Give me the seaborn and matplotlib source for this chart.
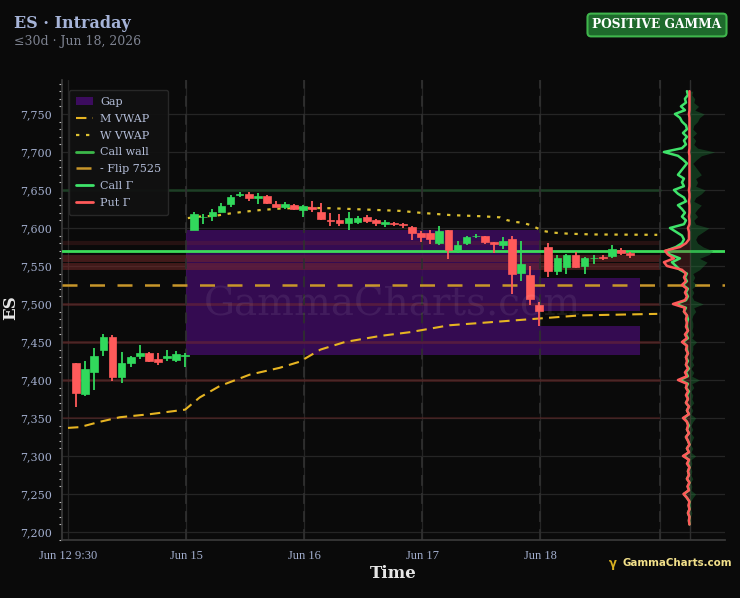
import numpy as np
import pandas as pd
import matplotlib
matplotlib.use("Agg")
import matplotlib.pyplot as plt
import seaborn as sns
from matplotlib.patches import Rectangle, Patch
from matplotlib.lines import Line2D
from matplotlib.ticker import MultipleLocator, FuncFormatter

# ---------------- data ----------------
day_labels = ["Jun 12 9:30", "Jun 15", "Jun 16", "Jun 17", "Jun 18"]
day_starts = [0, 13, 26, 39, 52]
session_end = 65.2

opens = [7422, 7382, 7411, 7439, 7457, 7404, 7422, 7431, 7436, 7428, 7429, 7426, 7432,
         7598, 7614, 7616, 7621, 7632, 7643, 7645, 7639, 7642, 7632, 7628, 7630.5, 7624,
         7628, 7621, 7610, 7610, 7607, 7608, 7614, 7610, 7605, 7606, 7605, 7601, 7594,
         7594, 7580, 7597, 7571, 7580, 7589, 7589, 7581, 7577, 7586, 7541, 7538, 7499,
         7575, 7543, 7549, 7565, 7550, 7560, 7562, 7563, 7571, 7567]
highs = [7423, 7425, 7442, 7460, 7459, 7437, 7432, 7446, 7437, 7436, 7440, 7438, 7436,
         7621, 7619, 7625, 7633, 7643, 7648, 7647, 7646, 7644, 7635, 7634, 7632, 7630,
         7636, 7633, 7620, 7618, 7621, 7616, 7617, 7612, 7611, 7608, 7607, 7603, 7596,
         7598, 7603, 7598, 7583, 7590, 7592, 7590, 7582, 7588, 7590, 7583, 7550, 7502,
         7580, 7564, 7566, 7568, 7562, 7565, 7564, 7578, 7574, 7568]
lows = [7365, 7379, 7387, 7432, 7399, 7396, 7417, 7427, 7424, 7420, 7425, 7424, 7417,
        7597, 7605, 7609, 7621, 7628, 7641, 7636, 7632, 7632, 7627, 7625, 7624, 7615,
        7621, 7611, 7603, 7603, 7597, 7605, 7606, 7602, 7601, 7602, 7600, 7584, 7581,
        7579, 7577, 7559, 7567, 7578, 7587, 7579, 7567, 7572, 7513, 7530, 7499, 7471,
        7535, 7538, 7540, 7548, 7539, 7553, 7558, 7560, 7565, 7561]
closes = [7383, 7414, 7431, 7457, 7404, 7423, 7430, 7436, 7425, 7424, 7431, 7434, 7433,
          7618, 7615, 7621, 7629, 7641, 7645, 7639, 7642, 7633, 7628, 7631, 7625, 7629,
          7625, 7612, 7609, 7606, 7613, 7613, 7609, 7606, 7608, 7605, 7603.5, 7594, 7588,
          7585, 7596, 7571, 7578, 7588, 7590, 7581, 7579, 7583, 7540, 7553, 7507, 7491,
          7543, 7560, 7564, 7549, 7560, 7561, 7560, 7572, 7567, 7565]

mvwap_x = [0, 1.3, 3.5, 5.7, 9, 12.9, 14.5, 16.7, 20, 23.3, 25.5, 27.8, 30.5, 34.4,
           37.7, 42, 47.6, 52, 56.4, 64.9]
mvwap_y = [7337, 7338, 7345, 7351, 7355, 7361, 7377, 7392, 7407, 7416, 7424, 7440,
           7450, 7458, 7463, 7472, 7477, 7481, 7485, 7487]
wvwap_x = [13.2, 14.5, 16.2, 17.8, 19.5, 21.1, 23.3, 25.6, 28.9, 33.3, 36.6, 38.8,
           42.1, 45.4, 47.6, 48.3, 49.2, 50, 50.9, 51.7, 52.4, 53.3, 55.1, 57.8, 64.9]
wvwap_y = [7613, 7615, 7616, 7619, 7621.5, 7623.5, 7625.5, 7626.5, 7626, 7624,
           7622.5, 7620, 7617, 7615.5, 7614, 7610.5, 7608, 7607, 7604, 7599.6, 7596,
           7594, 7592.5, 7591.5, 7591]

call_wall = 7570
flip_level = 7525
call_levels = [7650]
put_levels = [7580, 7560, 7550, 7500, 7450, 7400, 7350]
put_level_widths = [3, 5, 5, 2, 2, 2, 1.5]
put_level_alphas = [0.25, 0.5, 0.5, 0.45, 0.45, 0.45, 0.35]

gaps_x0 = [13, 52, 52]
gaps_x1 = [52, 63, 63]
gaps_lo = [7433, 7491, 7433]
gaps_hi = [7597, 7534, 7471]

strikes = list(range(7210, 7785, 5))
call_gamma = [0.5, 1, 0.5, 2, 0.5, 1, 0.5, 3, 6, 1, 2, 0.5, 3, 1, 2, 0.5, 2, 1, 6, 1,
              3, 0.5, 2, 4, 1, 3, 1, 3, 6, 1, 3, 1, 4, 2, 3, 1, 4, 2, 10, 2,
              4, 1, 4, 2, 4, 2, 3, 3, 7, 2, 4, 2, 3, 3, 2, 3, 6, 4, 14, 4,
              2, 4, 2, 7, 3, 5, 3, 10, 14, 18, 10, 20, 24, 14, 8, 6, 8, 14, 20, 6,
              4, 8, 5, 8, 12, 4, 6, 12, 16, 6, 8, 6, 12, 9, 6, 3, 7, 12, 26, 8,
              4, 6, 3, 7, 3, 4, 8, 10, 15, 5, 9, 4, 5, 2, 3]
put_gamma = [0.5, 1, 0.5, 2, 0.5, 1.5, 0.5, 3, 6.5, 1, 2.5, 0.5, 3, 1, 2, 0.5, 3, 1, 7, 1,
             3, 0.5, 2, 4, 1, 3, 2, 3, 7, 1, 3, 1, 4, 2, 4, 2, 4, 3, 12, 3,
             5, 2, 4, 3, 4, 2, 4, 3, 8, 3, 5, 2, 4, 3, 4, 3, 6, 5, 17, 5,
             3, 5, 3, 8, 4, 6, 4, 8, 23, 26, 16, 22, 25, 10, 4, 1, 1, 1, 2, 0.5,
             0.5, 1, 0.5, 0.5, 0.5, 1, 0.5, 0.5, 1, 0.5, 0.5, 0.5, 0.5, 0.5, 0.5, 0.5, 0.5, 0.5, 1, 0.5,
             0.5, 0.5, 0.5, 0.5, 0.5, 0.5, 0.5, 0.5, 1, 0.5, 0.5, 0.5, 0.5, 0.5, 0.5]

# ---------------- style ----------------
BG = "#0a0a0a"
GREEN = "#31d95c"
RED = "#ff5a5a"
GOLD = "#e6b422"
TICKC = "#a3afcf"
sns.set_theme(style="dark", rc={
    "figure.facecolor": BG, "axes.facecolor": BG,
    "axes.edgecolor": "#3a3a3a", "grid.color": "#262626",
    "xtick.color": TICKC, "ytick.color": TICKC,
    "axes.labelcolor": "#e6e6e6", "text.color": "#e6e6e6",
})
plt.rcParams["font.family"] = ["DejaVu Serif", "DejaVu Sans"]

fig = plt.figure(figsize=(7.4, 5.98), dpi=100)
ax = fig.add_axes([62 / 740, 58 / 598, 663 / 740, 460 / 598])
ax.set_facecolor(BG)

n = len(opens)
pos = np.arange(n) + 0.9

# gaps
for x0, x1, lo, hi in zip(gaps_x0, gaps_x1, gaps_lo, gaps_hi):
    ax.add_patch(Rectangle((x0, lo), x1 - x0, hi - lo, facecolor="#3c0c5e",
                           edgecolor="none", alpha=0.85, zorder=1))

# level bands
for lv, w, a in zip(put_levels, put_level_widths, put_level_alphas):
    ax.plot([-1, session_end], [lv, lv], color="#7a2a2a", lw=w, alpha=a,
            zorder=1.5, solid_capstyle="butt")
for lv in call_levels:
    ax.plot([-1, session_end], [lv, lv], color="#1d4a28", lw=2, alpha=0.7, zorder=1.5)

# day separators
for d in day_starts[1:] + [session_end]:
    ax.axvline(d, color="#2f2f2f", lw=1.3, ls=(0, (6, 4)), zorder=1.6)
ax.axvline(68.5, color="#2e2e2e", lw=0.9, zorder=1.2)

# watermark
fig.text(393 / 740, 1 - 305 / 598, "GammaCharts.com", fontsize=28, color="white",
         alpha=0.07, ha="center", va="center", zorder=2)

# VWAPs
sns.lineplot(x=mvwap_x, y=mvwap_y, ax=ax, color=GOLD, lw=1.5, estimator=None,
             zorder=3, sort=False)
ax.lines[-1].set_linestyle((0, (5, 3)))
sns.lineplot(x=wvwap_x, y=wvwap_y, ax=ax, color="#dcc032", lw=1.6, estimator=None,
             zorder=3, sort=False)
ax.lines[-1].set_linestyle((0, (1.5, 3)))

# horizontal key levels
ax.axhline(call_wall, color="#3ddc5a", lw=2, zorder=4)
ax.axhline(flip_level, color="#c8962a", lw=1.8, ls=(0, (6, 5)), zorder=4)

# candles
cols = [GREEN if c >= o else RED for o, c in zip(opens, closes)]
ax.vlines(pos, lows, highs, colors=cols, lw=1.3, zorder=5)
bottoms = np.minimum(opens, closes)
heights = np.maximum(np.abs(np.array(closes) - np.array(opens)), 0.8)
ax.bar(pos, heights, bottom=bottoms, width=0.85, color=cols, edgecolor=cols, lw=0.5, zorder=6)

# gamma profile
center = 68.5
pxu = 1 / 9.08
cg = np.array(call_gamma) * pxu
pg = np.array(put_gamma) * pxu
ax.fill_betweenx(strikes, center, center + cg * 0.95, color="#1f7a38", alpha=0.4,
                 lw=0, zorder=6)
ax.fill_betweenx(strikes, center - pg, center, color="#8a3030", alpha=0.3, lw=0, zorder=6)
prof = pd.DataFrame({"strike": strikes, "call": center - cg, "put": center - pg})
sns.lineplot(data=prof, x="call", y="strike", orient="y", ax=ax, color="#3fe36a",
             lw=1.8, estimator=None, sort=False, zorder=7)
sns.lineplot(data=prof, x="put", y="strike", orient="y", ax=ax, color=RED,
             lw=1.8, estimator=None, sort=False, zorder=8)

# axes
ax.set_xlim(-0.66, 72.36)
ax.set_ylim(7189.5, 7794.7)
ax.set_xticks(day_starts + [session_end, center])
ax.set_xticklabels(day_labels + ["", ""], fontsize=9,
                   family=["DejaVu Serif Condensed", "Liberation Serif", "DejaVu Serif"])
ax.yaxis.set_major_locator(MultipleLocator(50))
ax.yaxis.set_minor_locator(MultipleLocator(10))
ax.yaxis.set_major_formatter(FuncFormatter(lambda v, p: f"{v:,.0f}"))
ax.tick_params(axis="y", labelsize=8, length=4, width=0.8, colors=TICKC)
ax.tick_params(axis="y", which="minor", length=2, width=0.8, colors="#bbbbbb", left=True)
ax.tick_params(axis="x", labelsize=9, length=4, width=0.8, colors=TICKC, pad=3)
ax.grid(True, which="major", color="#252525", lw=0.9)
ax.set_axisbelow(True)
for s in ["top", "right"]:
    ax.spines[s].set_visible(False)
for s in ["left", "bottom"]:
    ax.spines[s].set_color("#3a3a3a")
ax.set_xlabel("Time", fontsize=12, fontweight="bold", color="#e6e6e6", labelpad=2)
ax.set_ylabel("")
fig.text(11 / 740, 1 - 308 / 598, "ES", fontsize=12, fontweight="bold", color="#e6e6e6",
         rotation=90, ha="center", va="center")

# legend
handles = [
    Patch(facecolor="#3c0c5e", edgecolor="none", label="Gap"),
    Line2D([], [], color=GOLD, lw=1.5, ls=(0, (5, 3)), label="M VWAP"),
    Line2D([], [], color="#dcc032", lw=1.6, ls=(0, (1.5, 3)), label="W VWAP"),
    Line2D([], [], color="#3cb84a", lw=2, label="Call wall"),
    Line2D([], [], color="#c8962a", lw=1.8, ls=(0, (6, 5)), label="- Flip 7525"),
    Line2D([], [], color="#3fe36a", lw=2, label="Call Γ"),
    Line2D([], [], color=RED, lw=2, label="Put Γ"),
]
leg = ax.legend(handles=handles, loc="upper left", bbox_to_anchor=(0.002, 0.99),
                fontsize=8, frameon=True, facecolor="#111111", edgecolor="#2a2a2a",
                labelcolor="#b3bdd8", labelspacing=0.62, handlelength=1.6,
                handletextpad=0.6, borderpad=0.6, framealpha=0.95)
leg.set_zorder(10)

# titles
fig.text(14 / 740, 1 - 24 / 598, "ES · Intraday", fontsize=11.5, fontweight="bold",
         color="#a6b4d8", va="center", ha="left")
fig.text(14 / 740, 1 - 41 / 598, "≤30d · Jun 18, 2026", fontsize=9,
         color="#7d8290", va="center", ha="left")
fig.text(657 / 740, 1 - 25 / 598, "POSITIVE GAMMA", fontsize=8.8, fontweight="bold",
         color="white", ha="center", va="center",
         bbox=dict(boxstyle="round,pad=0.4,rounding_size=0.3", fc="#1e6a2c",
                   ec="#3fb54c", lw=1.5))
fig.text(609 / 740, 1 - 563 / 598, "γ", fontsize=8.5, fontweight="bold", color="#d8b020",
         ha="left", va="center", family="DejaVu Sans")
fig.text(732 / 740, 1 - 563 / 598, "GammaCharts.com", fontsize=7.4, fontweight="bold",
         color="#f2e08a", ha="right", va="center", family="DejaVu Sans")

fig.savefig("out.png", dpi=100, facecolor=BG)
